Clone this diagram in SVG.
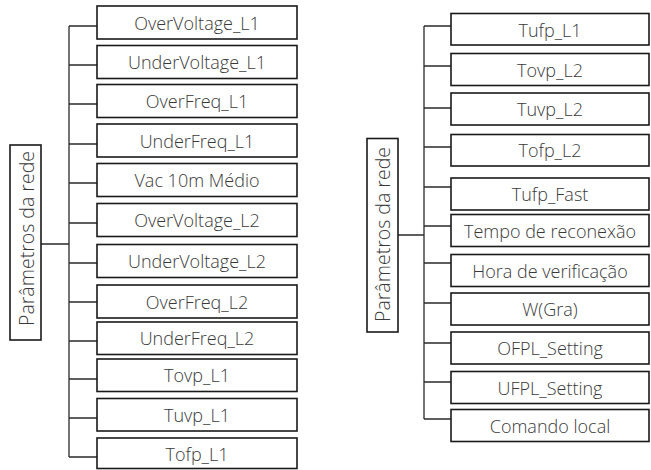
<svg xmlns="http://www.w3.org/2000/svg" width="651" height="470" viewBox="0 0 651 470">
<style>
.box{fill:#fff;stroke:#1a1a1a;stroke-width:1.6}
.t{font-family:"Open Sans","Liberation Sans",sans-serif;font-weight:300;font-size:18px;fill:#3a3a3a;text-anchor:middle;dominant-baseline:central}
.v{font-size:19.5px}
.c{fill:none;stroke:#2a2a2a;stroke-width:1.3}
</style>
<rect width="651" height="470" fill="#fff"/>
<g id="connectors">
<path class="c" d="M41 244H69M69 26V457M69 26H97M69 65H97M69 104H97M69 144H97M69 183H97M69 223H97M69 263H97M69 302H97M69 341H97M69 379H97M69 418H97M69 457H97"/>
<path class="c" d="M398 235H424M424 26V419M424 26H451M424 66H451M424 108H451M424 147H451M424 187H451M424 226H451M424 263H451M424 303H451M424 343H451M424 382H451M424 419H451"/>
</g>
<g id="root-left"><rect class="box" x="10" y="145" width="31" height="195"/><text class="t v" transform="translate(26 238.5) rotate(-90)">Parâmetros da rede</text></g>
<g id="n1"><rect class="box" x="97" y="6" width="200" height="33"/><text class="t" x="197" y="22.5">OverVoltage_L1</text></g>
<g id="n2"><rect class="box" x="97" y="45.5" width="200" height="33"/><text class="t" x="197" y="62">UnderVoltage_L1</text></g>
<g id="n3"><rect class="box" x="97" y="84.5" width="200" height="33"/><text class="t" x="197" y="101">OverFreq_L1</text></g>
<g id="n4"><rect class="box" x="97" y="124" width="200" height="33"/><text class="t" x="197" y="140.5">UnderFreq_L1</text></g>
<g id="n5"><rect class="box" x="97" y="163.5" width="200" height="33"/><text class="t" x="197" y="180">Vac 10m Médio</text></g>
<g id="n6"><rect class="box" x="97" y="203.5" width="200" height="33"/><text class="t" x="197" y="220">OverVoltage_L2</text></g>
<g id="n7"><rect class="box" x="97" y="244.5" width="200" height="33"/><text class="t" x="197" y="261">UnderVoltage_L2</text></g>
<g id="n8"><rect class="box" x="97" y="285" width="200" height="33"/><text class="t" x="197" y="301.5">OverFreq_L2</text></g>
<g id="n9"><rect class="box" x="97" y="322" width="200" height="32.5"/><text class="t" x="197" y="338">UnderFreq_L2</text></g>
<g id="n10"><rect class="box" x="97" y="359" width="200" height="32.5"/><text class="t" x="197" y="375">Tovp_L1</text></g>
<g id="n11"><rect class="box" x="97" y="398.5" width="200" height="32.5"/><text class="t" x="197" y="414.5">Tuvp_L1</text></g>
<g id="n12"><rect class="box" x="97" y="438" width="200" height="30.5"/><text class="t" x="197" y="454">Tofp_L1</text></g>
<g id="root-right"><rect class="box" x="367" y="138.5" width="31" height="193.5"/><text class="t v" transform="translate(382.5 234.5) rotate(-90)">Parâmetros da rede</text></g>
<g id="m1"><rect class="box" x="451" y="13.5" width="198" height="31.5"/><text class="t" x="550" y="29.5">Tufp_L1</text></g>
<g id="m2"><rect class="box" x="451" y="53.5" width="198" height="32"/><text class="t" x="550" y="69.5">Tovp_L2</text></g>
<g id="m3"><rect class="box" x="451" y="93" width="198" height="32"/><text class="t" x="550" y="109">Tuvp_L2</text></g>
<g id="m4"><rect class="box" x="451" y="134.5" width="198" height="31.5"/><text class="t" x="550" y="150">Tofp_L2</text></g>
<g id="m5"><rect class="box" x="451" y="178" width="198" height="32"/><text class="t" x="550" y="194">Tufp_Fast</text></g>
<g id="m6"><rect class="box" x="451" y="214.5" width="198" height="32"/><text class="t" x="550" y="230.5">Tempo de reconexão</text></g>
<g id="m7"><rect class="box" x="451" y="254.5" width="198" height="32"/><text class="t" x="550" y="270.5">Hora de verificação</text></g>
<g id="m8"><rect class="box" x="451" y="293" width="198" height="32"/><text class="t" x="550" y="309">W(Gra)</text></g>
<g id="m9"><rect class="box" x="451" y="332" width="198" height="32"/><text class="t" x="550" y="348">OFPL_Setting</text></g>
<g id="m10"><rect class="box" x="451" y="371.5" width="198" height="32"/><text class="t" x="550" y="387.5">UFPL_Setting</text></g>
<g id="m11"><rect class="box" x="451" y="409.5" width="198" height="32"/><text class="t" x="550" y="425.5">Comando local</text></g>
</svg>
